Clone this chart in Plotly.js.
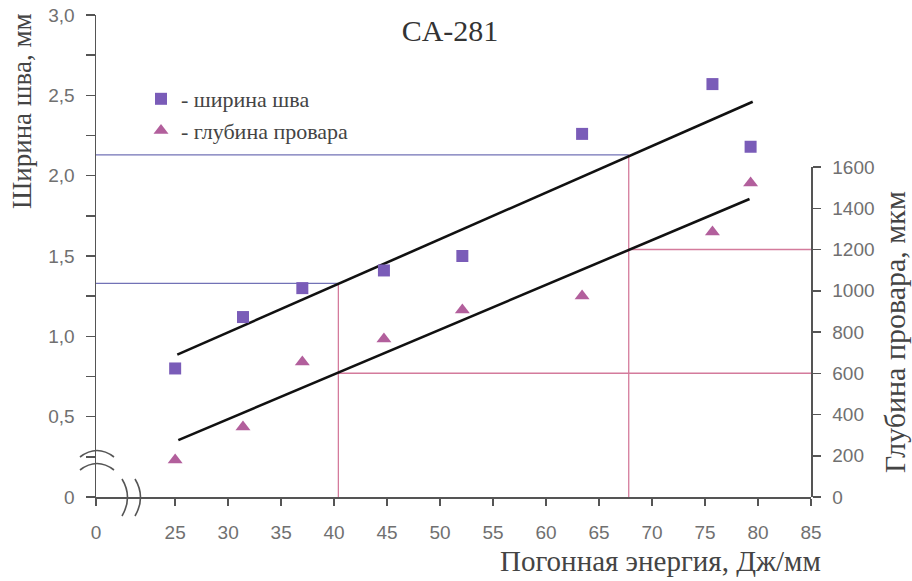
<!DOCTYPE html>
<html>
<head>
<meta charset="utf-8">
<script src="https://cdn.plot.ly/plotly-3.0.1.min.js"></script>
<style>html,body{margin:0;padding:0;background:#fff;}#chart{width:912px;height:581px;}</style>
</head>
<body>
<div id="chart"></div>
<script>
// ---- data ----
var energy = [25, 31.4, 37.0, 44.7, 52.1, 63.4, 75.7, 79.3];          // Дж/мм
var widthMM = [0.80, 1.12, 1.30, 1.41, 1.50, 2.26, 2.57, 2.18];      // ширина шва, мм
var depthUM = [180, 340, 655, 766, 907, 975, 1285, 1522];            // глубина провара, мкм
var trendWX = [25.2, 79.5], trendWY = [0.886, 2.46];
var trendDX = [25.3, 79.2], trendDY = [276, 1445];
var guideX = [40.4, 67.8];       // погонная энергия for guide lines
var guideW = [1.33, 2.13];       // ширина at guide
var guideD = [600, 1200];        // глубина at guide
var xStart = 17.53;              // axis origin (broken axis, labelled 0)
var xEnd = 85;
var xTickVals = [xStart, 25, 30, 35, 40, 45, 50, 55, 60, 65, 70, 75, 80, 85];
var xTickText = ['0', '25', '30', '35', '40', '45', '50', '55', '60', '65', '70', '75', '80', '85'];
var yTickVals = [0, 0.5, 1.0, 1.5, 2.0, 2.5, 3.0];
var yTickText = ['0', '0,5', '1,0', '1,5', '2,0', '2,5', '3,0'];
var yMinorVals = [0.25, 0.75, 1.25, 1.75, 2.25, 2.75];
var y2TickVals = [0, 200, 400, 600, 800, 1000, 1200, 1400, 1600];

var blue = '#7272b6', red = '#d47b9c';
var traces = [];
for (var i = 0; i < guideX.length; i++) {
  traces.push({x: [xStart, guideX[i]], y: [guideW[i], guideW[i]], mode: 'lines', line: {color: blue, width: 1.3}, showlegend: false, hoverinfo: 'skip'});
  traces.push({x: [guideX[i], guideX[i]], y: [0, guideW[i]], mode: 'lines', line: {color: red, width: 1.3}, showlegend: false, hoverinfo: 'skip'});
  traces.push({x: [guideX[i], xEnd], y: [guideD[i], guideD[i]], yaxis: 'y2', mode: 'lines', line: {color: red, width: 1.3}, showlegend: false, hoverinfo: 'skip'});
}
traces.push({x: trendWX, y: trendWY, mode: 'lines', line: {color: '#111', width: 2.6}, showlegend: false});
traces.push({x: trendDX, y: trendDY, yaxis: 'y2', mode: 'lines', line: {color: '#111', width: 2.6}, showlegend: false});
traces.push({x: energy, y: widthMM, mode: 'markers', name: '- ширина шва', legendgroup: 'a',
  marker: {symbol: 'square', size: 12, color: '#7a5cb8'}});
traces.push({x: energy, y: depthUM, yaxis: 'y2', mode: 'markers', name: '- глубина провара', legendgroup: 'b',
  marker: {symbol: 'triangle-up', size: 13, color: '#b25f9c'}});

var axisColor = '#555';
var tickFont = {family: 'Liberation Sans, Arial, sans-serif', size: 19, color: '#707070'};
var serif = 'Liberation Serif, Times New Roman, serif';

function px2paperX(p) { return (p - 96) / 715; }
function px2paperY(p) { return (497 - p) / 482; }
function arc(x0, y0, xc, yc, x1, y1) {
  return 'M ' + px2paperX(x0) + ',' + px2paperY(y0) + ' Q ' + px2paperX(xc) + ',' + px2paperY(yc) + ' ' + px2paperX(x1) + ',' + px2paperY(y1);
}
var breakShapes = [
  arc(80, 457, 97, 444, 114, 457),
  arc(80, 470, 97, 457, 114, 470),
  arc(122, 479, 133, 497, 122, 516),
  arc(135, 479, 146, 497, 135, 516)
].map(function (p) {
  return {type: 'path', xref: 'paper', yref: 'paper', path: p, line: {color: '#555', width: 1.6}};
});

var layout = {
  width: 912, height: 581,
  margin: {l: 96, r: 101, t: 15, b: 84},
  paper_bgcolor: '#fff', plot_bgcolor: 'rgba(0,0,0,0)',
  showlegend: true,
  title: {text: 'CA-281', x: 450 / 912, xanchor: 'center', y: 1 - 30 / 581, yanchor: 'middle',
    font: {family: serif, size: 30, color: '#333'}},
  xaxis: {range: [xStart, xEnd], tickvals: xTickVals, ticktext: xTickText, showgrid: false, zeroline: false,
    showline: true, linecolor: axisColor, linewidth: 1.5, ticks: 'outside', ticklen: 7, tickcolor: axisColor, tickwidth: 1.5,
    tickfont: tickFont, ticklabelstandoff: 11},
  yaxis: {range: [0, 3], tickvals: yTickVals, ticktext: yTickText, showgrid: false, zeroline: false,
    showline: true, linecolor: axisColor, linewidth: 1.5, ticks: 'outside', ticklen: 9, tickcolor: axisColor, tickwidth: 1.5,
    tickfont: tickFont, ticklabelstandoff: 7,
    minor: {tickvals: yMinorVals, ticks: 'outside', ticklen: 9, tickcolor: axisColor, tickwidth: 1.5}},
  yaxis2: {domain: [0, 330 / 482], anchor: 'x', side: 'right', range: [0, 1600], tickvals: y2TickVals,
    showgrid: false, zeroline: false, showline: true, linecolor: axisColor, linewidth: 1.5,
    ticks: 'outside', ticklen: 8, tickcolor: axisColor, tickwidth: 1.5, tickfont: tickFont, ticklabelstandoff: 8,
    title: {text: 'Глубина провара, мкм', font: {family: serif, size: 30, color: '#444'}, standoff: 10}},
  legend: {x: px2paperX(141), xanchor: 'left', y: px2paperY(78), yanchor: 'top', bgcolor: 'rgba(0,0,0,0)',
    font: {family: serif, size: 22, color: '#444'}, tracegroupgap: 0, itemwidth: 30},
  annotations: [
    {text: 'Ширина шва, мм', xref: 'paper', yref: 'paper', x: px2paperX(22), y: px2paperY(111), textangle: -90,
      showarrow: false, xanchor: 'center', yanchor: 'middle', font: {family: serif, size: 27, color: '#444'}},
    {text: 'Погонная энергия, Дж/мм', xref: 'paper', yref: 'paper', x: px2paperX(660), y: px2paperY(561),
      showarrow: false, xanchor: 'center', yanchor: 'middle', font: {family: serif, size: 29, color: '#444'}}
  ],
  shapes: breakShapes
};
Plotly.newPlot('chart', traces, layout, {displayModeBar: false, staticPlot: true});
</script>
</body>
</html>
